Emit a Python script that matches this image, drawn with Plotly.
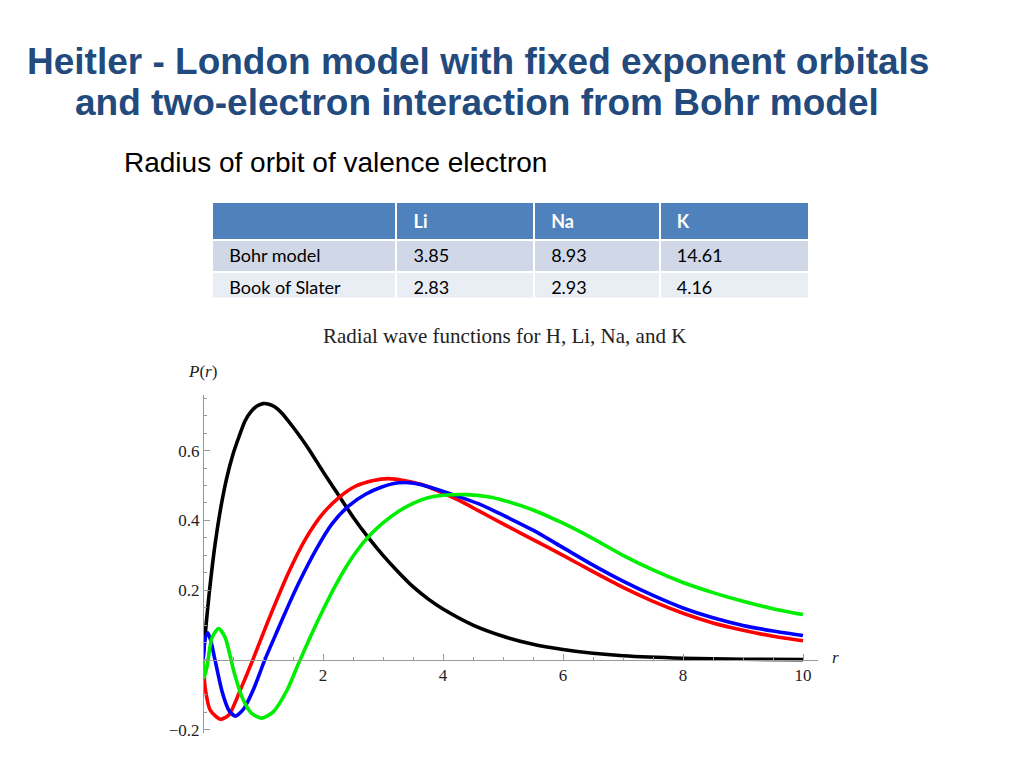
import plotly.graph_objects as go

# ---------------- data ----------------
title_line1 = "Heitler - London model with fixed exponent orbitals"
title_line2 = "and two-electron interaction from Bohr model"
subtitle_text = "Radius of orbit of valence electron"

table_header = ["", "Li", "Na", "K"]
table_rows = ["Bohr model", "Book of Slater"]
li_radius = ["3.85", "2.83"]
na_radius = ["8.93", "2.93"]
k_radius = ["14.61", "4.16"]

chart_title = "Radial wave functions for H, Li, Na, and K"

# H (black)
r_h = [0, 0.05, 0.1, 0.2, 0.3, 0.4, 0.5, 0.6, 0.7, 0.8, 0.9, 1.0, 1.1, 1.2, 1.3, 1.4, 1.5,
       1.75, 2.0, 2.25, 2.5, 2.75, 3.0, 3.25, 3.5, 3.75, 4.0, 4.5, 5.0, 5.5, 6.0, 6.5, 7.0,
       8.0, 9.0, 10.0]
p_h = [0, 0.098, 0.185, 0.33, 0.44, 0.525, 0.59, 0.64, 0.685, 0.712, 0.728, 0.735, 0.733,
       0.725, 0.71, 0.69, 0.668, 0.608, 0.54, 0.475, 0.41, 0.352, 0.30, 0.253, 0.21, 0.175,
       0.146, 0.10, 0.068, 0.045, 0.03, 0.019, 0.012, 0.005, 0.002, 0.001]

# Li (red)
r_li = [0, 0.04, 0.12, 0.29, 0.43, 0.62, 0.83, 1.0, 1.15, 1.43, 1.71, 1.99, 2.26, 2.54, 2.82,
        3.09, 3.37, 3.65, 3.92, 4.26, 4.59, 5.0, 5.5, 6.0, 6.5, 7.0, 7.5, 8.0, 8.5, 9.0, 9.5, 10.0]
p_li = [0, -0.085, -0.144, -0.17, -0.158, -0.087, 0, 0.075, 0.139, 0.252, 0.347, 0.418, 0.465,
        0.498, 0.514, 0.52, 0.514, 0.503, 0.484, 0.458, 0.428, 0.39, 0.345, 0.30, 0.253, 0.208,
        0.168, 0.134, 0.106, 0.085, 0.068, 0.055]

# Na (blue)
r_na = [0, 0.04, 0.08, 0.13, 0.2, 0.32, 0.43, 0.54, 0.68, 0.84, 1.03, 1.23, 1.42, 1.6, 1.88,
        2.15, 2.43, 2.71, 2.98, 3.26, 3.54, 3.81, 4.2, 4.59, 5.0, 5.5, 6.0, 6.5, 7.0, 7.5, 8.0,
        8.5, 9.0, 9.5, 10.0]
p_na = [0, 0.064, 0.078, 0.055, 0, -0.092, -0.144, -0.161, -0.14, -0.085, 0, 0.08, 0.155,
        0.222, 0.315, 0.39, 0.442, 0.475, 0.496, 0.508, 0.506, 0.494, 0.472, 0.448, 0.415,
        0.372, 0.322, 0.272, 0.226, 0.185, 0.149, 0.121, 0.099, 0.083, 0.07]

# K (green)
r_k = [0, 0.02, 0.065, 0.15, 0.26, 0.37, 0.51, 0.65, 0.81, 0.98, 1.17, 1.4, 1.6, 1.8, 2.0,
       2.2, 2.4, 2.6, 2.8, 3.0, 3.25, 3.5, 3.75, 4.0, 4.4, 4.75, 5.0, 5.5, 6.0, 6.5, 7.0, 7.5,
       8.0, 8.5, 9.0, 9.5, 10.0]
p_k = [0, -0.05, -0.021, 0.064, 0.09, 0.064, -0.03, -0.106, -0.153, -0.167, -0.149, -0.087,
       -0.007, 0.07, 0.143, 0.211, 0.271, 0.321, 0.361, 0.393, 0.425, 0.449, 0.465, 0.472,
       0.474, 0.468, 0.458, 0.43, 0.392, 0.348, 0.30, 0.258, 0.222, 0.193, 0.168, 0.147, 0.13]

x_tick_vals = [2, 4, 6, 8, 10]
y_tick_vals = [-0.2, 0.2, 0.4, 0.6]
y_tick_text = ["\u22120.2", "0.2", "0.4", "0.6"]

# ---------------- figure ----------------
OX, OY = 8, 8  # default page body margin
W, H = 1024 - 2 * OX, 768 - 2 * OY
DY = 6  # vertical correction for the plot area


def fx(px):
    return (px - OX) / W


def fy(py):
    return 1 - (py - OY) / H


fig = go.Figure()

series = [(r_h, p_h, "black"), (r_li, p_li, "#FF0000"), (r_na, p_na, "#0000FF"), (r_k, p_k, "#00EE00")]
for rx, py, col in series:
    fig.add_trace(go.Scatter(x=rx, y=py, mode="lines",
                             line=dict(color=col, width=3.6, shape="spline", smoothing=0.7),
                             showlegend=False, hoverinfo="skip"))

pad = "\u00a0\u00a0"
fig.add_trace(go.Table(
    domain=dict(x=[fx(212), fx(810)], y=[fy(300), fy(204)]),
    columnwidth=[185, 138, 126, 150],
    header=dict(values=[(pad + "<b>%s</b>" % h) if h else "" for h in table_header],
                fill_color="#4F81BD", align="left", height=32,
                line=dict(color="white", width=2),
                font=dict(family="Lato", size=18, color="white")),
    cells=dict(values=[[pad + v for v in col] for col in (table_rows, li_radius, na_radius, k_radius)],
               fill_color=[["#D0D8E8", "#E9EDF4"]] * 4, align="left", height=32,
               line=dict(color="white", width=2),
               font=dict(family="Lato", size=18, color="black")),
))

axis_gray = "#9a9a9a"
serif = "Liberation Serif"
fig.update_layout(
    width=W, height=H, margin=dict(l=0, r=0, t=0, b=0),
    paper_bgcolor="white", plot_bgcolor="white",
    xaxis=dict(domain=[fx(203), fx(818)], range=[0, 10.25], anchor="free", position=fy(659.2 + DY),
               showgrid=False, zeroline=False, showline=True, linecolor=axis_gray, linewidth=1,
               tickmode="array", tickvals=x_tick_vals, ticks="inside", ticklen=6, tickcolor=axis_gray,
               minor=dict(tickmode="linear", tick0=0, dtick=0.5, ticks="inside", ticklen=3, tickcolor=axis_gray),
               tickfont=dict(family=serif, size=17, color="#222")),
    yaxis=dict(domain=[fy(733 + DY), fy(392 + DY)], range=[-0.21, 0.76], anchor="free", position=fx(203),
               showgrid=False, zeroline=False, showline=True, linecolor=axis_gray, linewidth=1,
               tickmode="array", tickvals=y_tick_vals, ticktext=y_tick_text, ticks="inside", ticklen=6,
               tickcolor=axis_gray,
               minor=dict(tickmode="linear", tick0=0, dtick=0.05, ticks="inside", ticklen=3, tickcolor=axis_gray),
               tickfont=dict(family=serif, size=17, color="#222")),
)

title_font = dict(family="Liberation Sans", size=37, color="#234A7D")
fig.add_annotation(text="<b>%s</b>" % title_line1, xref="paper", yref="paper",
                   x=fx(478), y=fy(62), xanchor="center", yanchor="middle", showarrow=False, font=title_font)
fig.add_annotation(text="<b>%s</b>" % title_line2, xref="paper", yref="paper",
                   x=fx(477), y=fy(103), xanchor="center", yanchor="middle", showarrow=False, font=title_font)
fig.add_annotation(text=subtitle_text, xref="paper", yref="paper",
                   x=fx(122), y=fy(164), xanchor="left", yanchor="middle", showarrow=False,
                   font=dict(family="Liberation Sans", size=28, color="black"))
fig.add_annotation(text=chart_title, xref="paper", yref="paper",
                   x=fx(504), y=fy(339), xanchor="center", yanchor="middle", showarrow=False,
                   font=dict(family=serif, size=21, color="#222"))
fig.add_annotation(text="<i>P</i>(<i>r</i>)", xref="paper", yref="paper",
                   x=fx(202), y=fy(374), xanchor="center", yanchor="middle", showarrow=False,
                   font=dict(family=serif, size=17, color="#222"))
fig.add_annotation(text="<i>r</i>", xref="paper", yref="paper",
                   x=fx(835), y=fy(663), xanchor="center", yanchor="middle", showarrow=False,
                   font=dict(family=serif, size=17, color="#222"))

fig.write_html("out.html")
